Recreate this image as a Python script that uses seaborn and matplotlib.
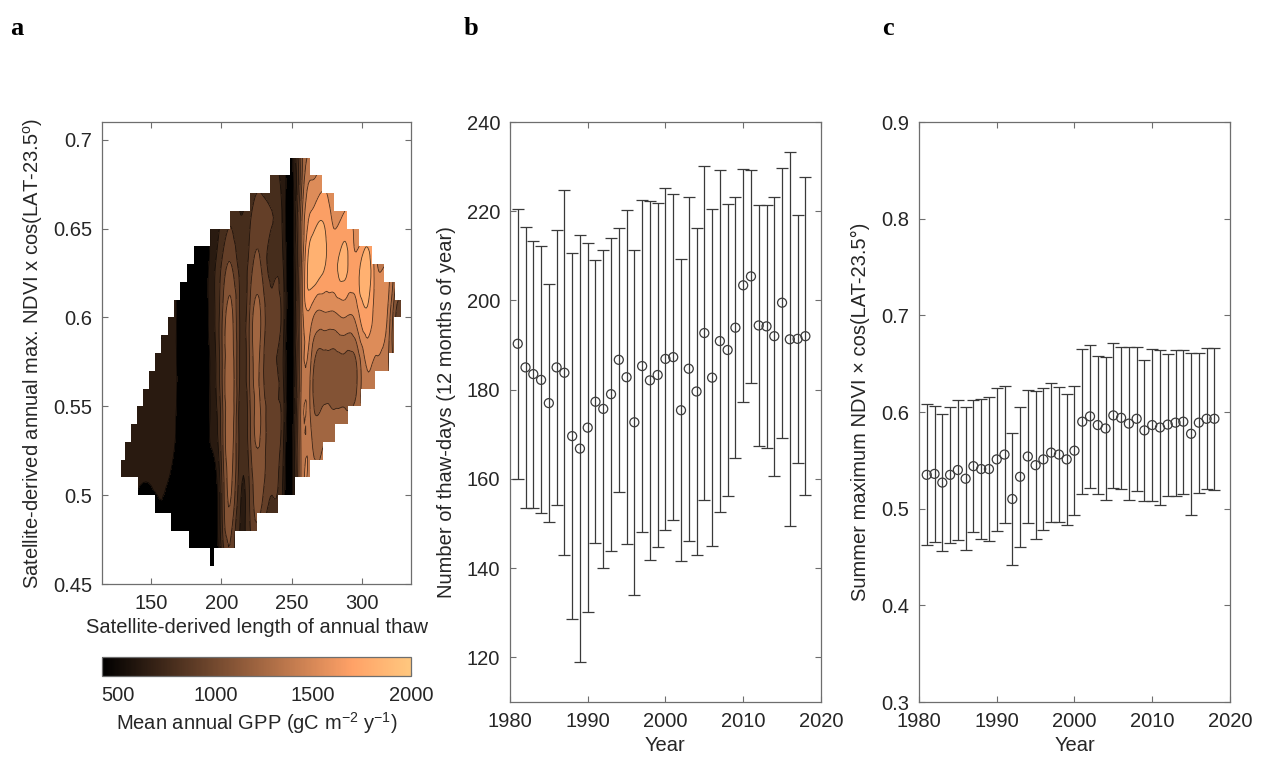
import numpy as np
import pandas as pd
import matplotlib
matplotlib.use("Agg")
import matplotlib.pyplot as plt
import matplotlib.tri as mtri
import seaborn as sns
from matplotlib.path import Path
from matplotlib.patches import PathPatch
from matplotlib.ticker import FuncFormatter
from matplotlib.cm import ScalarMappable
from matplotlib.colors import Normalize

# ---------------- data ----------------
years = list(range(1981, 2019))

# panel b: thaw days, mean and sd
thaw_mean = [190.3, 185.0, 183.5, 182.2, 177.0, 185.0, 183.8, 169.6, 166.8, 171.5,
             177.3, 175.7, 179.0, 186.7, 182.8, 172.7, 185.3, 182.1, 183.3, 186.9,
             187.3, 175.4, 184.7, 179.6, 192.7, 182.7, 190.9, 188.9, 193.9, 203.4,
             205.4, 194.4, 194.2, 192.0, 199.5, 191.3, 191.4, 192.0]
thaw_sd = [30.2, 31.5, 29.9, 29.9, 26.7, 30.9, 40.9, 41.1, 47.8, 41.3,
           31.7, 35.7, 35.1, 29.6, 37.4, 38.7, 37.2, 40.3, 38.6, 38.3,
           36.6, 33.8, 38.6, 36.6, 37.4, 37.8, 38.3, 32.8, 29.3, 26.1,
           23.8, 27.1, 27.2, 31.3, 30.3, 41.9, 27.8, 35.7]

# panel c: summer max NDVI, mean and sd
ndvi_mean = [0.535, 0.536, 0.527, 0.535, 0.540, 0.531, 0.544, 0.541, 0.541, 0.551,
             0.556, 0.510, 0.533, 0.554, 0.545, 0.551, 0.558, 0.556, 0.551, 0.560,
             0.590, 0.5955, 0.5865, 0.583, 0.5965, 0.594, 0.588, 0.593, 0.581, 0.5865,
             0.584, 0.587, 0.589, 0.590, 0.5775, 0.589, 0.593, 0.593]
ndvi_sd = [0.073, 0.0706, 0.0707, 0.0703, 0.0723, 0.074, 0.068, 0.0723, 0.0746, 0.0743,
           0.0708, 0.0685, 0.0723, 0.0686, 0.0764, 0.0734, 0.072, 0.0697, 0.0679, 0.0667,
           0.0747, 0.0736, 0.0716, 0.0739, 0.075, 0.0733, 0.079, 0.0745, 0.0727, 0.079,
           0.0804, 0.0735, 0.0755, 0.0745, 0.0838, 0.0723, 0.073, 0.0734]

# panel a: GPP field on a thaw-days x NDVI grid (rows = NDVI nodes)
thaw_nodes = [125, 135, 150, 165, 172, 180, 188, 194, 200, 207, 213, 220, 228, 236,
              244, 250, 256, 264, 272, 280, 288, 296, 304, 310, 318, 324, 332]
ndvi_nodes = [0.46, 0.50, 0.54, 0.57, 0.60, 0.63, 0.66, 0.70]
gpp_grid = [
    [550, 520, 500, 480, 440, 430, 450, 430, 600, 1000, 700, 750, 850, 700, 550, 500, 1200, 1300, 1350, 1350, 1350, 1350, 1400, 1400, 1400, 1300, 1300],
    [580, 570, 540, 520, 460, 440, 460, 440, 800, 1150, 750, 850, 1050, 850, 650, 480, 1250, 1350, 1350, 1350, 1350, 1350, 1400, 1400, 1400, 1300, 1300],
    [640, 640, 630, 600, 480, 450, 470, 600, 900, 1250, 800, 950, 1150, 900, 750, 470, 1250, 1280, 1230, 1220, 1230, 1260, 1350, 1400, 1400, 1300, 1300],
    [640, 650, 650, 620, 480, 450, 480, 620, 950, 1250, 850, 1000, 1100, 850, 700, 460, 1200, 1250, 1060, 1050, 1060, 1120, 1450, 1400, 1350, 1100, 1200],
    [640, 650, 650, 620, 470, 450, 500, 650, 950, 1200, 850, 1000, 1150, 900, 750, 470, 1200, 1500, 1400, 1400, 1450, 1500, 1700, 1550, 1450, 1000, 1250],
    [640, 650, 650, 620, 470, 440, 480, 640, 850, 1000, 800, 900, 1000, 800, 700, 470, 1150, 1850, 1800, 1700, 1800, 1650, 1850, 1500, 1450, 1200, 1300],
    [640, 650, 650, 620, 480, 450, 470, 600, 700, 800, 700, 800, 900, 850, 650, 480, 1100, 1600, 1700, 1550, 1600, 1500, 1500, 1450, 1400, 1300, 1300],
    [640, 650, 650, 620, 480, 450, 470, 600, 700, 800, 700, 700, 800, 750, 600, 500, 1100, 1200, 1350, 1400, 1400, 1400, 1400, 1400, 1400, 1300, 1300],
]
gpp_levels = [0, 550, 700, 850, 1000, 1150, 1300, 1450, 1600, 1750, 1900, 3000]

# extent of valid data: for each 0.01 NDVI row, the thaw-day range covered
ndvi_rows = [0.46, 0.47, 0.48, 0.49, 0.50, 0.51, 0.52, 0.53, 0.54, 0.55, 0.56, 0.57,
             0.58, 0.59, 0.60, 0.61, 0.62, 0.63, 0.64, 0.65, 0.66, 0.67, 0.68]
thaw_lo = [192, 177, 164, 153, 141, 128.3, 131.1, 135.4, 139.6, 144.3, 148.3, 153.1,
           157.3, 161.8, 166.5, 170.8, 175.5, 180.2, 192, 206.2, 220.3, 234.5, 248.7]
thaw_hi = [195, 210, 225, 240, 252.2, 262.8, 272, 281.2, 290, 299.4, 309, 319,
           323, 323, 327.7, 323.7, 315.9, 307.2, 297.8, 289.2, 280.5, 271.8, 262.9]

# ---------------- style ----------------
sns.set_style("white")
plt.rcParams['font.family'] = ['Liberation Sans', 'DejaVu Sans']
plt.rcParams['mathtext.fontset'] = 'custom'
plt.rcParams['mathtext.rm'] = 'Liberation Sans'
plt.rcParams['mathtext.it'] = 'Liberation Sans'

TXT = '#262626'
EDGE = '#6e6e6e'
FS = 14.5


def style_axes(ax):
    for s in ax.spines.values():
        s.set_color(EDGE)
        s.set_linewidth(0.9)
    ax.tick_params(direction='in', length=4, width=0.8, color=EDGE,
                   top=True, right=True, bottom=True, left=True,
                   labelsize=FS, labelcolor=TXT, pad=7)


fmt = FuncFormatter(lambda v, p: '%g' % round(v, 3))

fig = plt.figure(figsize=(12.62, 7.63), dpi=100)
ax_a = fig.add_axes([0.0808, 0.2346, 0.2449, 0.6055])
cax = fig.add_axes([0.0808, 0.114, 0.2449, 0.0249])
ax_b = fig.add_axes([0.4041, 0.0799, 0.2464, 0.7602])
ax_c = fig.add_axes([0.7282, 0.0799, 0.2464, 0.7602])

# ---------------- panel a ----------------
norm = Normalize(vmin=420, vmax=2000)
nx, ny = len(thaw_nodes), len(ndvi_nodes)
X, Y = np.meshgrid(thaw_nodes, ndvi_nodes)
Z = np.array(gpp_grid, dtype=float)
tris = []
for j in range(ny - 1):
    for i in range(nx - 1):
        k = j * nx + i
        tris += [[k, k + 1, k + nx + 1], [k, k + nx + 1, k + nx]]
tri = mtri.Triangulation(X.ravel(), Y.ravel(), triangles=tris)
refiner = mtri.UniformTriRefiner(tri)
tri_f, z_f = refiner.refine_field(Z.ravel(), subdiv=3)

cf = ax_a.tricontourf(tri_f, z_f, levels=gpp_levels, cmap='copper', norm=norm)
cl = ax_a.tricontour(tri_f, z_f, levels=gpp_levels[1:-1], colors='k', linewidths=0.6, alpha=0.7)

verts = []
for r, lo in zip(ndvi_rows, thaw_lo):
    verts += [(lo, r), (lo, r + 0.01)]
for r, hi in zip(ndvi_rows[::-1], thaw_hi[::-1]):
    verts += [(hi, r + 0.01), (hi, r)]
verts.append(verts[0])
codes = [Path.MOVETO] + [Path.LINETO] * (len(verts) - 2) + [Path.CLOSEPOLY]
clip = PathPatch(Path(verts, codes), transform=ax_a.transData, facecolor='none', edgecolor='none')
ax_a.add_patch(clip)
cf.set_clip_path(clip)
cl.set_clip_path(clip)

ax_a.set_xlim(115, 335)
ax_a.set_ylim(0.45, 0.71)
ax_a.set_xticks([150, 200, 250, 300])
ax_a.set_yticks([0.45, 0.5, 0.55, 0.6, 0.65, 0.7])
ax_a.yaxis.set_major_formatter(fmt)
style_axes(ax_a)
ax_a.set_xlabel('Satellite-derived length of annual thaw', fontsize=FS, color=TXT, labelpad=4)
ax_a.set_ylabel(r'Satellite-derived annual max. NDVI x cos(LAT-23.5$^{\rm o}$)',
                fontsize=FS, color=TXT, labelpad=6)

cb = fig.colorbar(ScalarMappable(norm=norm, cmap='copper'), cax=cax, orientation='horizontal')
cb.set_ticks([500, 1000, 1500, 2000])
cb.outline.set_edgecolor(EDGE)
cb.outline.set_linewidth(0.9)
cax.tick_params(direction='in', length=3, color=EDGE, labelsize=FS, labelcolor=TXT, pad=7)
cb.set_label(r'Mean annual GPP (gC m$^{-2}$ y$^{-1}$)', fontsize=FS, color=TXT, labelpad=4)

# ---------------- panels b and c ----------------
df_b = pd.DataFrame({'Year': years, 'mean': thaw_mean, 'sd': thaw_sd})
df_c = pd.DataFrame({'Year': years, 'mean': ndvi_mean, 'sd': ndvi_sd})

for ax, df in [(ax_b, df_b), (ax_c, df_c)]:
    ax.errorbar(df['Year'], df['mean'], yerr=df['sd'], fmt='none', ecolor='#3a3a3a',
                elinewidth=0.9, capsize=4, capthick=0.9)
    sns.scatterplot(data=df, x='Year', y='mean', ax=ax, marker='o', s=42,
                    facecolor='none', edgecolor='#3a3a3a', linewidth=0.9, zorder=3)
    ax.set_xlim(1980, 2020)
    ax.set_xticks([1980, 1990, 2000, 2010, 2020])
    style_axes(ax)
    ax.set_xlabel('Year', fontsize=FS, color=TXT, labelpad=4)

ax_b.set_ylim(110, 240)
ax_b.set_yticks([120, 140, 160, 180, 200, 220, 240])
ax_b.set_ylabel('Number of thaw-days (12 months of year)', fontsize=FS, color=TXT, labelpad=8)

ax_c.set_ylim(0.3, 0.9)
ax_c.set_yticks([0.3, 0.4, 0.5, 0.6, 0.7, 0.8, 0.9])
ax_c.yaxis.set_major_formatter(fmt)
ax_c.set_ylabel('Summer maximum NDVI \u00d7 cos(LAT-23.5\u00b0)', fontsize=FS, color=TXT, labelpad=8)

for x, letter in [(0.008, 'a'), (0.367, 'b'), (0.699, 'c')]:
    fig.text(x, 0.978, letter, fontfamily='Liberation Serif', fontweight='bold',
             fontsize=19, va='top', ha='left', color='black')

fig.savefig('out.png', dpi=100)
